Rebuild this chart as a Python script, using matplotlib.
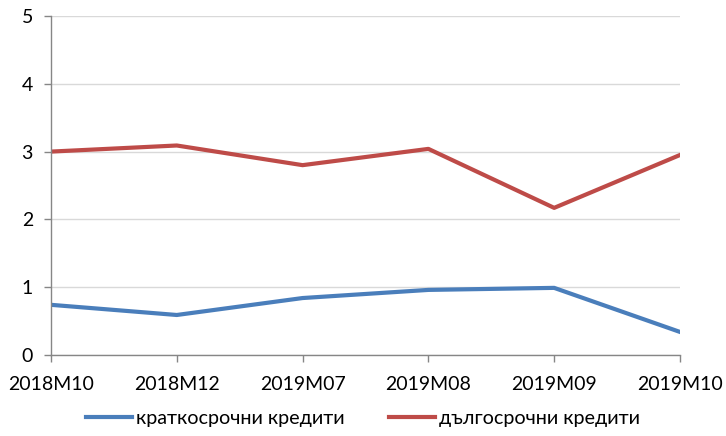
import matplotlib
matplotlib.use("Agg")
import matplotlib.pyplot as plt

periods = ["2018M10", "2018M12", "2019M07", "2019M08", "2019M09", "2019M10"]
short_term = [0.74, 0.59, 0.84, 0.96, 0.99, 0.34]
long_term = [3.00, 3.09, 2.80, 3.04, 2.17, 2.95]
series_names = ["краткосрочни кредити", "дългосрочни кредити"]
y_ticks = [0, 1, 2, 3, 4, 5]

plt.rcParams["font.family"] = ["Lato", "DejaVu Sans"]

fig = plt.figure(figsize=(7.26, 4.36), dpi=100)
ax = fig.add_axes([0.0702, 0.1858, 0.8664, 0.7775])

x = list(range(len(periods)))
ax.plot(x, short_term, color="#4A7EBB", lw=3, label=series_names[0], solid_joinstyle="round")
ax.plot(x, long_term, color="#BE4B48", lw=3, label=series_names[1], solid_joinstyle="round")

ax.set_xlim(0, len(periods) - 1)
ax.set_ylim(0, 5)
ax.set_yticks(y_ticks)
ax.set_xticks(x)
ax.set_xticklabels(periods)

ax.yaxis.grid(True, color="#D9D9D9", lw=1)
ax.set_axisbelow(True)
for side in ["top", "right"]:
    ax.spines[side].set_visible(False)
for side in ["left", "bottom"]:
    ax.spines[side].set_color("#868686")
    ax.spines[side].set_linewidth(1)

ax.tick_params(axis="both", colors="#868686", labelcolor="black", labelsize=14,
               length=5, width=1, direction="out")
ax.tick_params(axis="x", pad=10)
ax.tick_params(axis="y", pad=8)

fig.legend(loc="lower center", bbox_to_anchor=(0.5, -0.02), ncol=2, frameon=False,
           fontsize=14.2, handlelength=2.3, columnspacing=2.3, handletextpad=0.2)

fig.savefig("out.png", dpi=100)
